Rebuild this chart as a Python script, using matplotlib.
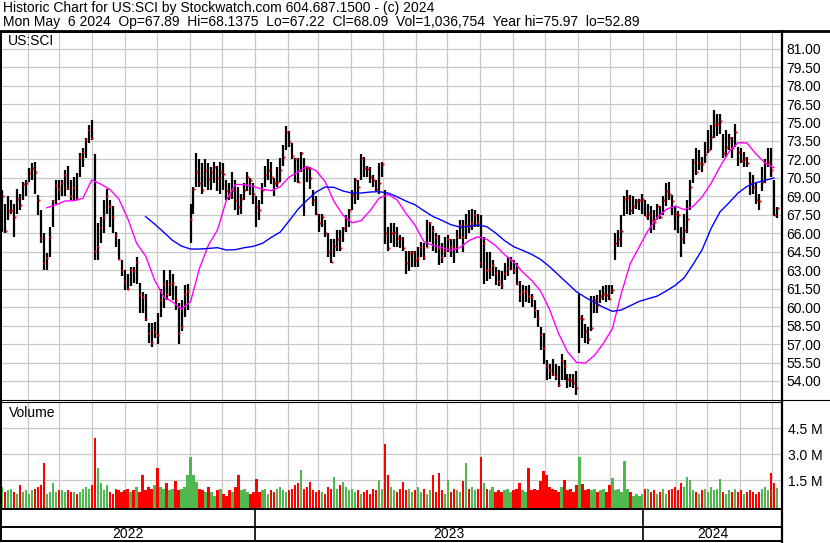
import numpy as np
import pandas as pd
import matplotlib
matplotlib.use('Agg')
import matplotlib.pyplot as plt
import matplotlib.dates as mdates
from matplotlib.lines import Line2D

# ---------------------------------------------------
# DATOS (una barra = ~2 sesiones)
# ---------------------------------------------------
TITLE = 'Historic Chart for US:SCI by Stockwatch.com 604.687.1500 - (c) 2024'
SUBTITLE = 'Mon May  6 2024  Op=67.89  Hi=68.1375  Lo=67.22  Cl=68.09  Vol=1,036,754  Year hi=75.97  lo=52.89'
SYMBOL = 'US:SCI'
FIRST_DAY = '2022-05-08'
LAST_DAY = '2024-05-06'

high = [69.5, 68.4, 69.0, 68.7, 68.4, 69.6, 69.2, 70.2, 70.3, 71.3,
        71.7, 71.8, 69.1, 67.9, 66.0, 64.4, 66.5, 68.7, 70.3, 70.3,
        70.3, 71.1, 71.5, 70.3, 70.6, 70.9, 72.5, 72.9, 73.7, 74.8,
        75.2, 72.4, 66.8, 67.3, 68.7, 69.6, 68.7, 68.2, 66.1, 65.5,
        63.8, 63.0, 62.7, 63.3, 63.3, 64.1, 62.0, 61.2, 61.1, 58.7,
        58.7, 58.8, 59.5, 61.5, 63.0, 62.2, 63.0, 62.7, 61.7, 60.3,
        60.6, 61.8, 61.9, 68.4, 69.8, 72.5, 72.0, 71.7, 72.0, 71.7,
        71.4, 71.8, 71.5, 71.8, 71.7, 70.3, 70.1, 71.0, 70.3, 69.8,
        69.2, 70.1, 71.0, 70.5, 70.1, 69.0, 68.7, 70.1, 71.5, 72.0,
        71.8, 70.5, 71.4, 72.1, 73.2, 74.7, 74.3, 73.3, 72.1, 72.1,
        72.6, 72.1, 71.5, 71.4, 69.5, 69.0, 67.6, 67.6, 67.1, 66.0,
        65.5, 65.5, 66.3, 66.3, 66.5, 67.5, 68.0, 69.5, 70.5, 70.3,
        72.4, 72.2, 71.5, 71.4, 70.7, 70.3, 71.7, 71.8, 69.5, 66.5,
        66.8, 66.8, 66.5, 65.9, 65.7, 64.6, 64.6, 64.6, 64.6, 64.9,
        65.3, 65.2, 67.1, 66.9, 66.6, 66.0, 65.9, 65.2, 65.7, 65.9,
        65.5, 65.5, 66.3, 67.1, 67.1, 67.6, 67.9, 68.0, 67.9, 67.6,
        67.5, 65.7, 64.5, 64.5, 63.8, 63.3, 63.0, 62.9, 63.6, 64.1,
        64.1, 63.8, 63.6, 62.1, 61.8, 61.7, 61.8, 61.1, 60.6, 59.8,
        58.4, 57.9, 55.7, 55.4, 55.8, 55.4, 55.2, 56.2, 55.7, 54.6,
        54.6, 54.6, 54.8, 61.1, 59.4, 58.6, 58.4, 60.9, 60.9, 61.0,
        61.4, 61.7, 61.8, 61.8, 61.8, 66.0, 66.3, 67.5, 69.0, 69.5,
        69.1, 69.0, 68.8, 68.8, 69.2, 68.7, 68.4, 68.2, 67.9, 68.4,
        68.2, 69.0, 70.1, 70.2, 69.1, 68.2, 67.8, 66.5, 67.6, 68.7,
        70.3, 72.0, 72.9, 72.8, 72.2, 73.4, 74.4, 74.8, 76.0, 75.7,
        75.7, 74.1, 74.4, 74.1, 73.8, 74.9, 73.0, 72.9, 72.6, 72.2,
        71.0, 70.7, 70.1, 69.2, 71.4, 72.0, 72.9, 72.9, 70.3, 68.14]

low = [66.1, 66.0, 67.1, 67.6, 65.7, 67.6, 67.9, 68.7, 69.0, 70.2,
       70.3, 69.2, 67.5, 65.2, 63.0, 63.0, 64.1, 66.5, 68.4, 68.7,
       69.0, 69.0, 69.5, 68.7, 68.7, 68.7, 70.6, 71.4, 72.1, 73.3,
       73.6, 63.8, 63.8, 65.2, 66.0, 67.6, 66.5, 66.0, 64.9, 63.8,
       62.5, 61.4, 61.4, 61.7, 62.0, 61.9, 59.5, 59.5, 58.9, 57.1,
       56.8, 57.5, 57.0, 59.2, 59.9, 60.6, 60.9, 60.6, 59.8, 57.0,
       58.1, 59.2, 59.8, 65.2, 67.6, 69.8, 69.8, 69.2, 69.8, 69.5,
       69.5, 70.1, 69.4, 69.2, 69.5, 68.7, 68.7, 68.8, 67.9, 67.5,
       67.6, 68.7, 69.4, 69.1, 68.4, 66.5, 67.1, 68.4, 69.8, 70.3,
       70.0, 69.0, 69.8, 70.2, 71.5, 72.8, 73.0, 72.0, 70.2, 70.1,
       71.0, 67.4, 70.2, 69.6, 68.2, 67.5, 66.1, 66.5, 65.7, 64.1,
       63.6, 64.1, 64.6, 64.6, 65.3, 66.1, 66.5, 67.9, 68.4, 68.7,
       70.3, 70.6, 70.6, 70.1, 69.8, 69.4, 69.2, 70.6, 65.1, 64.6,
       65.2, 64.9, 64.9, 64.8, 64.6, 62.7, 62.9, 63.3, 63.3, 63.3,
       64.1, 63.8, 64.9, 65.3, 64.6, 64.4, 63.4, 63.6, 64.1, 64.5,
       64.1, 63.6, 64.4, 65.5, 64.5, 65.5, 66.0, 66.3, 66.5, 66.5,
       63.2, 61.9, 62.1, 62.3, 62.5, 61.8, 61.7, 61.5, 62.2, 62.5,
       63.0, 62.7, 61.8, 60.4, 60.0, 60.4, 60.3, 60.0, 59.1, 58.4,
       56.5, 55.4, 54.1, 54.2, 54.4, 54.1, 53.5, 54.1, 54.1, 53.4,
       53.5, 53.4, 52.9, 56.3, 57.5, 57.1, 57.0, 58.1, 59.5, 59.5,
       60.3, 60.6, 60.4, 60.6, 61.1, 63.8, 64.9, 64.9, 67.4, 67.6,
       67.5, 67.6, 68.0, 67.9, 67.6, 67.4, 67.1, 66.0, 66.3, 67.1,
       67.2, 67.5, 68.2, 68.7, 67.5, 66.3, 66.0, 64.1, 65.1, 66.0,
       67.9, 70.1, 70.7, 71.1, 71.0, 71.7, 72.5, 72.8, 73.7, 73.9,
       74.1, 72.1, 72.2, 72.8, 72.1, 73.0, 71.5, 71.7, 71.4, 71.4,
       69.1, 69.2, 68.4, 67.9, 69.4, 70.1, 71.4, 70.6, 67.4, 67.22]

close = [69.0, 66.2, 67.8, 67.9, 67.3, 68.8, 68.3, 70.0, 70.1, 70.9,
         71.3, 71.0, 68.7, 65.6, 63.6, 64.0, 65.7, 68.6, 69.9, 69.6,
         70.1, 70.7, 69.7, 69.0, 69.7, 68.8, 72.2, 72.6, 73.6, 74.4,
         73.7, 64.6, 64.9, 66.5, 67.3, 69.0, 68.2, 67.3, 65.9, 63.9,
         63.0, 62.1, 61.5, 63.0, 62.9, 63.7, 61.0, 60.8, 59.0, 57.9,
         57.1, 58.0, 57.7, 60.6, 61.9, 61.1, 61.9, 62.0, 60.6, 57.9,
         58.4, 61.1, 61.3, 67.2, 69.6, 71.0, 70.1, 69.5, 71.1, 70.4,
         71.0, 71.4, 70.5, 71.0, 70.8, 69.4, 69.0, 69.5, 68.7, 68.1,
         68.8, 69.5, 70.6, 70.3, 69.2, 68.1, 67.9, 69.5, 70.7, 71.1,
         70.6, 70.1, 70.2, 71.1, 72.2, 74.2, 73.4, 72.3, 72.0, 70.2,
         72.5, 71.4, 71.3, 70.5, 68.7, 67.6, 66.8, 67.3, 66.0, 64.5,
         63.7, 65.0, 65.5, 64.8, 66.4, 67.2, 67.9, 69.1, 70.3, 69.8,
         72.1, 71.3, 71.2, 70.6, 70.3, 69.6, 70.1, 71.6, 66.0, 64.8,
         66.0, 66.1, 65.6, 65.5, 64.8, 63.6, 64.4, 64.5, 63.8, 64.0,
         64.9, 64.1, 64.9, 66.8, 66.3, 65.7, 64.8, 64.1, 64.6, 65.5,
         64.9, 64.8, 65.7, 66.7, 65.7, 66.7, 66.6, 66.8, 67.5, 66.9,
         63.6, 65.2, 63.0, 63.1, 63.4, 62.8, 62.1, 61.8, 62.8, 63.2,
         63.8, 63.0, 61.9, 61.1, 61.2, 61.3, 60.9, 60.8, 59.8, 59.1,
         57.7, 56.7, 55.2, 54.9, 54.6, 54.4, 53.7, 55.7, 55.2, 54.2,
         54.1, 53.8, 53.4, 59.1, 59.0, 58.1, 57.4, 58.3, 60.6, 60.2,
         60.9, 61.1, 61.0, 60.7, 61.4, 65.2, 65.5, 66.2, 68.8, 68.9,
         67.9, 68.2, 68.6, 68.7, 68.8, 67.4, 67.6, 67.1, 66.9, 68.2,
         67.3, 68.7, 69.4, 69.2, 68.6, 67.6, 67.5, 65.5, 66.3, 67.2,
         69.8, 71.8, 71.0, 71.7, 71.6, 72.4, 72.8, 73.8, 74.8, 74.9,
         75.1, 72.5, 73.0, 73.7, 72.9, 74.2, 72.6, 71.9, 72.0, 71.7,
         70.1, 69.8, 68.7, 68.6, 70.2, 71.7, 71.8, 71.1, 67.5, 68.09]

# volumen en millones
volume = [1.1, 0.8, 0.9, 1.0, 0.8, 0.7, 1.2, 0.8, 0.9, 0.7,
          0.9, 1.0, 1.1, 1.2, 2.5, 0.7, 0.8, 1.3, 0.8, 0.9,
          0.9, 0.8, 0.9, 0.8, 0.8, 0.7, 0.8, 1.0, 1.1, 1.0,
          1.2, 3.9, 2.2, 1.3, 0.9, 1.2, 0.8, 0.7, 1.0, 0.9,
          0.8, 0.9, 1.0, 0.8, 0.9, 1.1, 0.8, 1.8, 0.9, 1.1,
          1.0, 1.2, 2.2, 1.1, 1.0, 1.3, 0.9, 1.0, 1.45, 0.9,
          1.0, 1.1, 1.8, 2.8, 1.8, 1.4, 1.0, 0.9, 0.8, 1.1,
          0.8, 0.6, 0.9, 1.0, 0.7, 0.6, 0.9, 0.8, 1.1, 1.8,
          0.9, 1.0, 0.8, 0.7, 0.8, 1.55, 0.8, 0.9, 1.0, 0.7,
          0.9, 0.8, 1.0, 1.1, 0.9, 0.8, 0.9, 1.0, 1.2, 1.3,
          2.1, 1.0, 1.1, 1.4, 0.9, 0.8, 0.9, 0.8, 0.7, 1.1,
          1.0, 1.7, 1.0, 1.2, 1.4, 1.1, 0.9, 1.0, 0.8, 0.9,
          0.7, 0.8, 0.9, 0.7, 1.0, 0.9, 1.5, 1.0, 3.6, 1.8,
          1.1, 0.9, 0.8, 1.0, 1.4, 0.9, 1.0, 0.8, 0.9, 1.1,
          0.8, 1.0, 0.7, 0.9, 1.8, 0.8, 1.9, 0.9, 0.7, 1.5,
          0.8, 1.0, 0.9, 0.8, 1.45, 2.5, 1.0, 1.1, 0.9, 1.0,
          2.8, 1.3, 1.0, 0.9, 1.1, 0.8, 0.9, 0.8, 0.9, 1.0,
          0.8, 0.9, 1.0, 1.3, 0.9, 0.8, 2.2, 0.9, 1.0, 0.9,
          1.45, 2.0, 1.8, 1.1, 1.0, 0.9, 0.8, 1.1, 1.5, 0.9,
          1.0, 0.8, 1.2, 2.8, 1.25, 0.9, 1.0, 0.9, 1.0, 0.8,
          0.9, 1.0, 0.8, 1.2, 1.6, 0.9, 1.0, 0.8, 2.6, 1.0,
          0.8, 0.6, 0.7, 0.6, 0.7, 1.0, 1.0, 0.8, 0.9, 0.7,
          0.8, 1.0, 0.7, 0.9, 1.0, 1.1, 0.9, 1.3, 1.1, 1.65,
          1.5, 0.9, 0.8, 0.7, 0.9, 1.0, 0.8, 1.1, 0.9, 1.0,
          1.55, 0.8, 0.7, 0.9, 0.8, 1.0, 0.8, 0.9, 0.7, 0.8,
          0.9, 0.8, 0.7, 0.8, 1.0, 1.1, 0.9, 1.9, 1.3, 1.04]

# medias móviles, un punto cada 3 barras
nan = np.nan
ma_fast = [nan, nan, nan, nan, nan, 68.08, 68.30, 68.62, 68.65, 68.84,
           70.33, 70.00, 69.57, 68.81, 67.21, 65.18, 64.15, 62.20, 60.85, 60.42,
           59.85, 60.44, 63.15, 65.05, 66.26, 68.70, 69.97, 69.95, 69.81, 69.57,
           69.46, 69.78, 70.57, 71.00, 71.41, 71.08, 70.19, 68.57, 67.46, 66.86,
           67.02, 67.83, 68.84, 69.16, 68.73, 67.62, 66.67, 65.32, 65.02, 64.83,
           64.61, 64.83, 65.40, 65.72, 65.51, 64.99, 64.26, 63.69, 62.85, 62.18,
           61.31, 59.82, 57.87, 56.38, 55.51, 55.46, 56.08, 57.06, 58.25, 61.12,
           63.56, 64.91, 66.26, 67.27, 67.94, 68.21, 67.92, 68.19, 68.97, 70.06,
           71.41, 72.63, 73.36, 73.33, 72.44, 71.71, 71.33]

ma_slow = [nan, nan, nan, nan, nan, nan, nan, nan, nan, nan,
           nan, nan, nan, nan, nan, nan, 67.35, 66.75, 66.10, 65.42,
           64.96, 64.72, 64.72, 64.77, 64.83, 64.64, 64.67, 64.83, 64.94, 65.18,
           65.67, 66.10, 67.02, 67.97, 68.70, 69.35, 69.76, 69.73, 69.43, 69.27,
           69.27, 69.35, 69.38, 69.27, 68.97, 68.62, 68.32, 67.83, 67.37, 67.05,
           66.70, 66.51, 66.56, 66.67, 66.54, 66.02, 65.40, 64.91, 64.61, 64.29,
           63.88, 63.29, 62.61, 61.93, 61.25, 60.79, 60.39, 59.98, 59.66, 59.77,
           60.12, 60.47, 60.69, 60.90, 61.31, 61.77, 62.39, 63.48, 64.67, 66.40,
           67.75, 68.48, 69.27, 69.81, 70.11, 70.30, 70.49]

price_ticks = np.arange(54.0, 81.01, 1.5)
vol_ticks = [1.5, 3.0, 4.5]
years = [2022, 2023, 2024]
# ---------------------------------------------------

W, H = 830, 543
GRID = '#c8c8c8'
FONT = 'Liberation Sans'
plt.rcParams['font.family'] = [FONT, 'DejaVu Sans']

fechas = pd.date_range(FIRST_DAY, LAST_DAY, periods=len(close))
x = mdates.date2num(fechas)
step = x[1] - x[0]

# escala: 388 px por año 2023
px_day = 388 / 365.0
d23 = mdates.date2num(pd.Timestamp('2023-01-01'))
d24 = mdates.date2num(pd.Timestamp('2024-01-01'))
xmin = d23 - 254 / px_day
xmax = d24 + 139 / px_day

fig = plt.figure(figsize=(W / 100, H / 100), dpi=100)
fig.patch.set_facecolor('white')


def caja(top, bottom):
    return [1 / W, 1 - bottom / H, 781 / W, (bottom - top) / H]


ax_p = fig.add_axes(caja(32, 400))
ax_v = fig.add_axes(caja(402, 509))
ax_s = fig.add_axes(caja(509, 541))

month_starts = mdates.date2num(pd.date_range('2022-06-01', '2024-05-01', freq='MS'))

# ---- precio ----
ax_p.set_xlim(xmin, xmax)
ax_p.set_ylim(54 - 19 / 12.31, 54 + 349 / 12.31)
ax_p.set_xticks(month_starts)
ax_p.set_yticks(price_ticks)
ax_p.set_yticklabels(['%.2f' % v for v in price_ticks])
ax_p.grid(True, color=GRID, lw=0.9)
ax_p.set_axisbelow(True)
ax_p.tick_params(axis='x', length=0, labelbottom=False)
ax_p.tick_params(axis='y', length=0, labelleft=False, labelright=True,
                 pad=3, labelsize=10)
ax_p.vlines(x, low, high, color='black', lw=1.6)
ax_p.plot(x + step * 0.2, close, 's', color='red', ms=1.4, mew=0)
x_ma = x[::3]
ax_p.plot(x_ma, ma_fast, color='#ff00ff', lw=1)
ax_p.plot(x_ma, ma_slow, color='#0000ff', lw=1)
ax_p.text(7 / 781, 1 - 9 / 368, SYMBOL, transform=ax_p.transAxes,
          fontsize=10, va='center', ha='left')

# ---- volumen ----
vmin = -0.173
ax_v.set_xlim(xmin, xmax)
ax_v.set_ylim(vmin, 6.0)
ax_v.set_xticks(month_starts)
ax_v.set_yticks(vol_ticks)
ax_v.set_yticklabels(['%.1f M' % v for v in vol_ticks])
ax_v.grid(True, color=GRID, lw=0.9)
ax_v.set_axisbelow(True)
ax_v.tick_params(axis='x', length=0, labelbottom=False)
ax_v.tick_params(axis='y', length=0, labelleft=False, labelright=True,
                 pad=4, labelsize=10)
colores = []
prev = None
for c in close:
    if prev is None or c > prev:
        colores.append('#4fb84f')
    elif c < prev:
        colores.append('#ff0000')
    else:
        colores.append('#a8a8a8')
    prev = c
vol = np.array(volume)
ax_v.bar(x, vol - vmin, bottom=vmin, width=step * 0.8, color=colores,
         linewidth=0)
ax_v.text(8 / 781, 1 - 11 / 107, 'Volume', transform=ax_v.transAxes,
          fontsize=10, va='center', ha='left')

# ---- franja de años ----
ax_s.set_xlim(xmin, xmax)
ax_s.set_ylim(0, 32)
ax_s.set_xticks([])
ax_s.set_yticks([])
ax_s.axhline(14, color='black', lw=1.4)
for d in (d23, d24):
    ax_s.axvline(d, color='black', lw=1.2)
limites = [xmin, d23, d24, xmax]
for i, yr in enumerate(years):
    ax_s.text((limites[i] + limites[i + 1]) / 2, 6.5, str(yr), ha='center',
              va='center', fontsize=10)

for ax in (ax_p, ax_v, ax_s):
    for s in ax.spines.values():
        s.set_color('black')
        s.set_linewidth(1.4)
ax_p.spines['bottom'].set_linewidth(0.8)
ax_v.spines['top'].set_linewidth(0.8)


def linea(x0, y0, x1, y1, lw):
    fig.add_artist(Line2D([x0 / W, x1 / W], [1 - y0 / H, 1 - y1 / H],
                          color='black', lw=lw))


linea(0, 31, W, 31, 2.0)
linea(782, 31, 782, 543, 1.6)
linea(782, 400, W, 400, 0.8)

# ---- cabecera ----
fig.text(3 / W, 1 - 12 / H, TITLE, fontsize=10, va='baseline', ha='left')
fig.text(3 / W, 1 - 26 / H, SUBTITLE, fontsize=10, va='baseline', ha='left')

fig.savefig('out.png', dpi=100, facecolor='white')
